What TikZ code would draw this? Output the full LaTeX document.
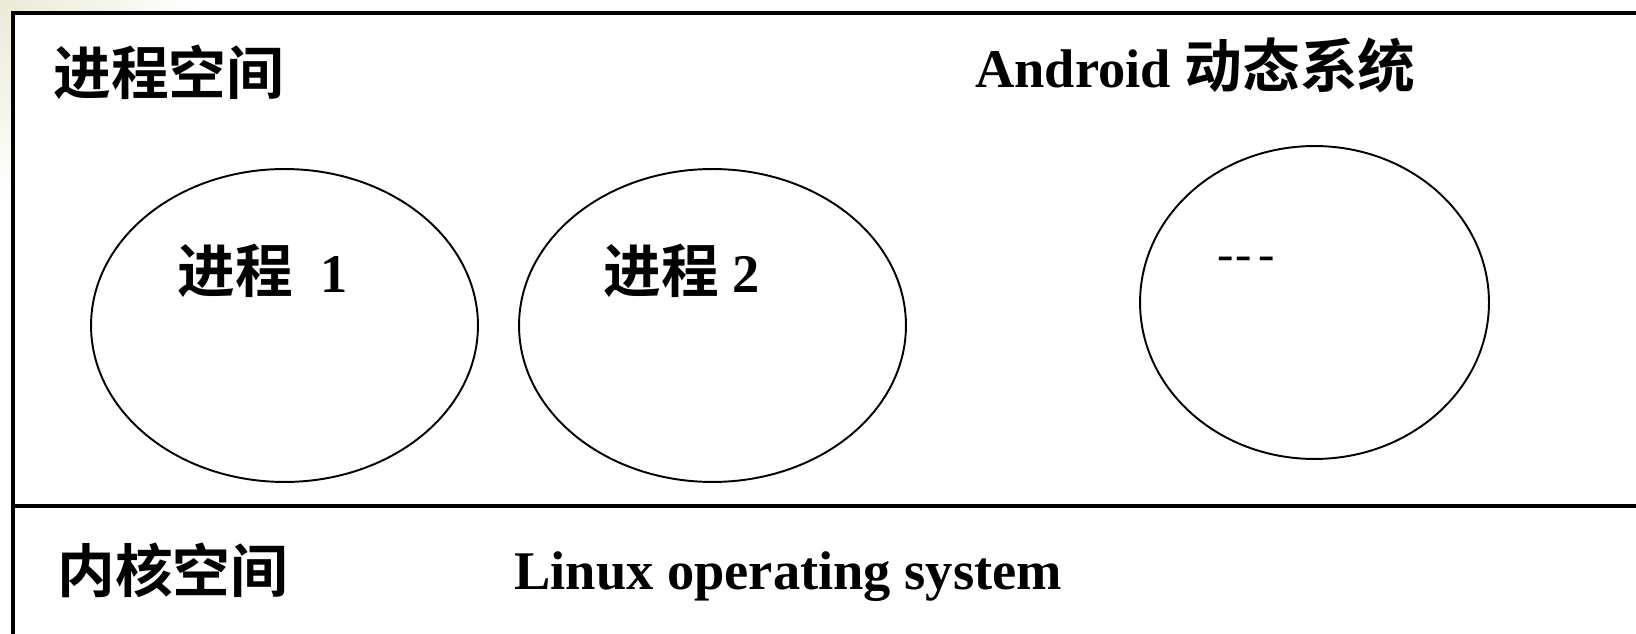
\documentclass[tikz,border=0pt]{standalone}
\usepackage{fontspec}
\setmainfont{Liberation Serif}
\newfontfamily\cjk{Noto Sans CJK SC}[BoldFont={Noto Sans CJK SC Bold}, Scale=1.06]
\usetikzlibrary{shapes.geometric}
\definecolor{slidebg}{RGB}{236,234,214}

\begin{document}
\begin{tikzpicture}[x=0.02cm, y=-0.02cm,
    proc/.style={shape=ellipse, draw, line width=1.1pt, inner sep=0pt},
    title/.style={inner sep=0pt, font=\fontsize{31}{36}\selectfont\bfseries},
    frameline/.style={line width=2.3pt}]
    \useasboundingbox (0,0) rectangle (1636,634);

    % slide background in the corner
    \begin{scope}
        \clip (0,0) rectangle (1636,13) (0,0) rectangle (13,634);
        \shade[inner color=slidebg, outer color=white] (0,0) circle (200);
    \end{scope}

    % frame
    \coordinate (topleft) at (13,13);
    \coordinate (topright) at (1636,13);
    \coordinate (bottomleft) at (13,634);
    \coordinate (splitleft) at (13,506);
    \coordinate (splitright) at (1636,506);
    \draw[frameline] (bottomleft) -- (topleft) -- (topright);
    \draw[frameline] (splitleft) -- (splitright);

    % processes
    \node[proc, minimum width=7.74cm, minimum height=6.26cm] (P1) at (284.5,325.5) {};
    \node[proc, minimum width=7.74cm, minimum height=6.26cm] (P2) at (712.5,325.5) {};
    \node[proc, minimum width=6.98cm, minimum height=6.26cm] (P3) at (1314.5,302.5) {};

    \node[title, anchor=west] (p1label) at (177,271) {{\cjk 进程}\ \ 1};
    \node[title, anchor=west] (p2label) at (603,271) {{\cjk 进程} 2};
    \node[inner sep=0pt, font=\fontsize{28}{30}\selectfont] (p3label) at (1246,264) {-\kern1pt-\kern4pt-};

    % titles
    \node[title, anchor=west] (userspace) at (53,72.5) {\cjk 进程空间};
    \node[title, anchor=base west] (android) at (975,88) {Android {\cjk 动态系统}};
    \node[title, anchor=west] (kernelspace) at (57,570) {\cjk 内核空间};
    \node[title, anchor=base west] (linux) at (514,589) {Linux operating system};
\end{tikzpicture}
\end{document}
